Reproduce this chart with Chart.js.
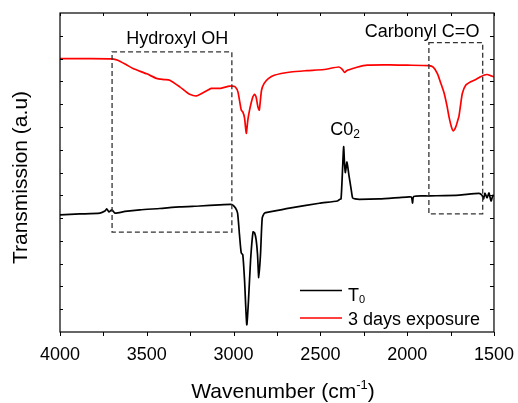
<!DOCTYPE html>
<html>
<head>
<meta charset="utf-8">
<script src="https://cdn.jsdelivr.net/npm/chart.js@4.4.1/dist/chart.umd.min.js"></script>
<style>
    body { margin: 0; background: #fff; }
    #wrap { width: 518px; height: 403px; }
</style>
</head>
<body>
<div id="wrap"><canvas id="ftirChart"></canvas></div>
<script>
const FONT = '"Liberation Sans", Arial, sans-serif';

// T0 spectrum (black)
const t0Wavenumber = [
    4000, 3885, 3770, 3741, 3730, 3718, 3701, 3684, 3626, 3540, 3425, 3310, 3195, 3080, 3017,
    3006, 2989, 2977, 2966, 2956, 2947, 2937, 2924, 2914, 2902, 2888, 2879, 2870, 2862, 2855,
    2845, 2835, 2822, 2793, 2678, 2506, 2402, 2390, 2381, 2372, 2366, 2361, 2356, 2347, 2336,
    2322, 2314, 2300, 2276, 2161, 2046, 1989, 1975, 1969, 1962, 1874, 1701, 1586, 1569, 1560,
    1552, 1540, 1529, 1517, 1506, 1500
];
const t0Transmission = [
    5.14, 5.18, 5.22, 5.31, 5.40, 5.27, 5.36, 5.22, 5.29, 5.36, 5.42, 5.49, 5.53, 5.58, 5.60,
    5.58, 5.44, 5.22, 4.26, 3.47, 3.39, 2.29, 0.32, 1.41, 3.17, 4.39, 4.35, 4.04, 3.39, 2.38,
    3.40, 5.01, 5.22, 5.27, 5.44, 5.65, 5.75, 5.82, 5.84, 7.20, 8.13, 7.40, 7.00, 7.46, 6.90,
    6.23, 5.88, 5.84, 5.82, 5.84, 5.90, 5.93, 5.92, 5.66, 5.95, 5.97, 6.01, 6.08, 6.00, 5.84,
    6.10, 5.88, 6.10, 5.75, 6.00, 5.97
];

// 3 days exposure spectrum (red)
const exposedWavenumber = [
    4000, 3850, 3700, 3667, 3620, 3579, 3500, 3444, 3400, 3368, 3310, 3280, 3253, 3214, 3176,
    3128, 3080, 3023, 3004, 2990, 2975, 2956, 2947, 2937, 2927, 2918, 2908, 2889, 2879, 2870,
    2860, 2852, 2839, 2824, 2800, 2766, 2671, 2580, 2480, 2393, 2374, 2361, 2345, 2326, 2290,
    2230, 2100, 2000, 1875, 1850, 1826, 1810, 1787, 1770, 1759, 1745, 1734, 1720, 1710, 1701,
    1690, 1682, 1663, 1634, 1600, 1577, 1555, 1539, 1520, 1500
];
const exposedTransmission = [
    12.00, 12.00, 11.99, 11.93, 11.74, 11.56, 11.33, 11.13, 11.08, 11.05, 10.76, 10.58, 10.43, 10.36, 10.50,
    10.69, 10.69, 10.79, 10.79, 10.75, 10.54, 9.74, 9.66, 9.40, 8.72, 9.30, 9.74, 10.32, 10.43, 10.30,
    9.88, 9.74, 10.61, 10.91, 11.12, 11.27, 11.41, 11.47, 11.52, 11.63, 11.53, 11.39, 11.49, 11.53, 11.62,
    11.71, 11.72, 11.71, 11.69, 11.62, 11.34, 11.00, 10.48, 9.90, 9.44, 9.00, 8.83, 9.00, 9.25, 9.50,
    10.10, 10.48, 10.83, 10.98, 11.10, 11.20, 11.28, 11.30, 11.25, 11.20
];

const xTickValues = [4000, 3500, 3000, 2500, 2000, 1500];
const seriesLabels = ['T0', '3 days exposure'];
const seriesColors = ['#000000', '#ff0000'];

// dashed boxes: [wavenumber from, wavenumber to, y top, y bottom]
const hydroxylBox = [3700, 3010, 12.29, 4.38];
const carbonylBox = [1875, 1565, 12.70, 5.18];

// annotation anchors in data units: [wavenumber, y]
const hydroxylLabel = [3325, 12.66];
const carbonylLabel = [1914, 12.95];
const co2Label = [2443, 8.64];

function toPoints(xs, ys) {
    return xs.map((w, i) => ({ x: w, y: ys[i] }));
}

const decorPlugin = {
    id: 'decor',
    afterDraw(chart) {
        const { ctx, chartArea: a, scales: { x, y } } = chart;
        ctx.save();

        // frame
        ctx.strokeStyle = '#000';
        ctx.lineWidth = 1.2;
        ctx.strokeRect(a.left, a.top, a.width, a.height);

        // ticks
        ctx.lineWidth = 1;
        ctx.beginPath();
        for (let w = 1500; w <= 4000; w += 250) {
            const px = Math.round(x.getPixelForValue(w)) + 0.5;
            ctx.moveTo(px, a.bottom);
            ctx.lineTo(px, a.bottom + 4);
            ctx.moveTo(px, a.top);
            ctx.lineTo(px, a.top + 3);
        }
        for (let v = 1; v < 14; v++) {
            const py = Math.round(y.getPixelForValue(v)) + 0.5;
            ctx.moveTo(a.left, py);
            ctx.lineTo(a.left + 3, py);
            ctx.moveTo(a.right, py);
            ctx.lineTo(a.right - 4, py);
        }
        ctx.stroke();

        // dashed boxes
        ctx.strokeStyle = '#333';
        ctx.lineWidth = 1.3;
        ctx.setLineDash([5, 3]);
        [hydroxylBox, carbonylBox].forEach(b => {
            const x0 = x.getPixelForValue(b[0]);
            const x1 = x.getPixelForValue(b[1]);
            const y0 = y.getPixelForValue(b[2]);
            const y1 = y.getPixelForValue(b[3]);
            ctx.strokeRect(x0, y0, x1 - x0, y1 - y0);
        });
        ctx.setLineDash([]);

        // annotations
        ctx.fillStyle = '#000';
        ctx.font = `18px ${FONT}`;
        ctx.textBaseline = 'alphabetic';
        ctx.textAlign = 'center';
        ctx.fillText('Hydroxyl OH', x.getPixelForValue(hydroxylLabel[0]), y.getPixelForValue(hydroxylLabel[1]));
        ctx.fillText('Carbonyl C=O', x.getPixelForValue(carbonylLabel[0]), y.getPixelForValue(carbonylLabel[1]));

        ctx.textAlign = 'left';
        const cx = x.getPixelForValue(co2Label[0]);
        const cy = y.getPixelForValue(co2Label[1]);
        ctx.fillText('C0', cx, cy);
        const cw = ctx.measureText('C0').width;
        ctx.font = `12px ${FONT}`;
        ctx.fillText('2', cx + cw, cy + 3);

        // legend
        const lx0 = a.right - 194, lx1 = a.right - 152, tx = a.right - 146;
        const rows = [
            { lineY: a.bottom - 41.5, baseY: a.bottom - 31 },
            { lineY: a.bottom - 14, baseY: a.bottom - 7 }
        ];
        rows.forEach((r, i) => {
            ctx.strokeStyle = seriesColors[i];
            ctx.lineWidth = 1.7;
            ctx.beginPath();
            ctx.moveTo(lx0, r.lineY);
            ctx.lineTo(lx1, r.lineY);
            ctx.stroke();
        });
        ctx.fillStyle = '#000';
        ctx.font = `18px ${FONT}`;
        ctx.fillText('T', tx, rows[0].baseY);
        const tw = ctx.measureText('T').width;
        ctx.font = `11px ${FONT}`;
        ctx.fillText('0', tx + tw, rows[0].baseY + 2);
        ctx.font = `18px ${FONT}`;
        ctx.fillText(seriesLabels[1], tx, rows[1].baseY);

        // x axis title with superscript
        ctx.font = `21px ${FONT}`;
        const part1 = 'Wavenumber (cm';
        const w1 = ctx.measureText(part1).width;
        ctx.font = `13px ${FONT}`;
        const w2 = ctx.measureText('-1').width;
        ctx.font = `21px ${FONT}`;
        const w3 = ctx.measureText(')').width;
        const total = w1 + w2 + w3;
        let sx = (a.left + a.right) / 2 + 6 - total / 2;
        const base = 398;
        ctx.fillText(part1, sx, base);
        ctx.font = `13px ${FONT}`;
        ctx.fillText('-1', sx + w1, base - 9);
        ctx.font = `21px ${FONT}`;
        ctx.fillText(')', sx + w1 + w2, base);

        // y axis title
        ctx.translate(27, (a.top + a.bottom) / 2 + 5);
        ctx.rotate(-Math.PI / 2);
        ctx.textAlign = 'center';
        ctx.fillText('Transmission (a.u)', 0, 0);

        ctx.restore();
    }
};

new Chart(document.getElementById('ftirChart'), {
    type: 'line',
    data: {
        datasets: [
            {
                label: seriesLabels[0],
                data: toPoints(t0Wavenumber, t0Transmission),
                borderColor: seriesColors[0],
                borderWidth: 1.7,
                pointRadius: 0,
                tension: 0.2,
                fill: false
            },
            {
                label: seriesLabels[1],
                data: toPoints(exposedWavenumber, exposedTransmission),
                borderColor: seriesColors[1],
                borderWidth: 1.7,
                pointRadius: 0,
                tension: 0.2,
                fill: false
            }
        ]
    },
    options: {
        responsive: true,
        maintainAspectRatio: false,
        animation: false,
        layout: { padding: { top: 13, right: 23, left: 0, bottom: 0 } },
        plugins: {
            legend: { display: false },
            tooltip: { enabled: false }
        },
        scales: {
            x: {
                type: 'linear',
                reverse: true,
                min: 1500,
                max: 4000,
                afterBuildTicks: (scale) => {
                    scale.ticks = xTickValues.map(v => ({ value: v }));
                },
                afterFit: (scale) => { scale.height = 71; },
                ticks: {
                    color: '#000',
                    font: { size: 18, family: FONT },
                    padding: 4,
                    maxRotation: 0,
                    callback: (value) => String(value)
                },
                grid: { display: false },
                border: { display: false }
            },
            y: {
                min: 0,
                max: 14,
                afterFit: (scale) => { scale.width = 60; },
                ticks: { display: false },
                grid: { display: false },
                border: { display: false }
            }
        }
    },
    plugins: [decorPlugin]
});
</script>
</body>
</html>
